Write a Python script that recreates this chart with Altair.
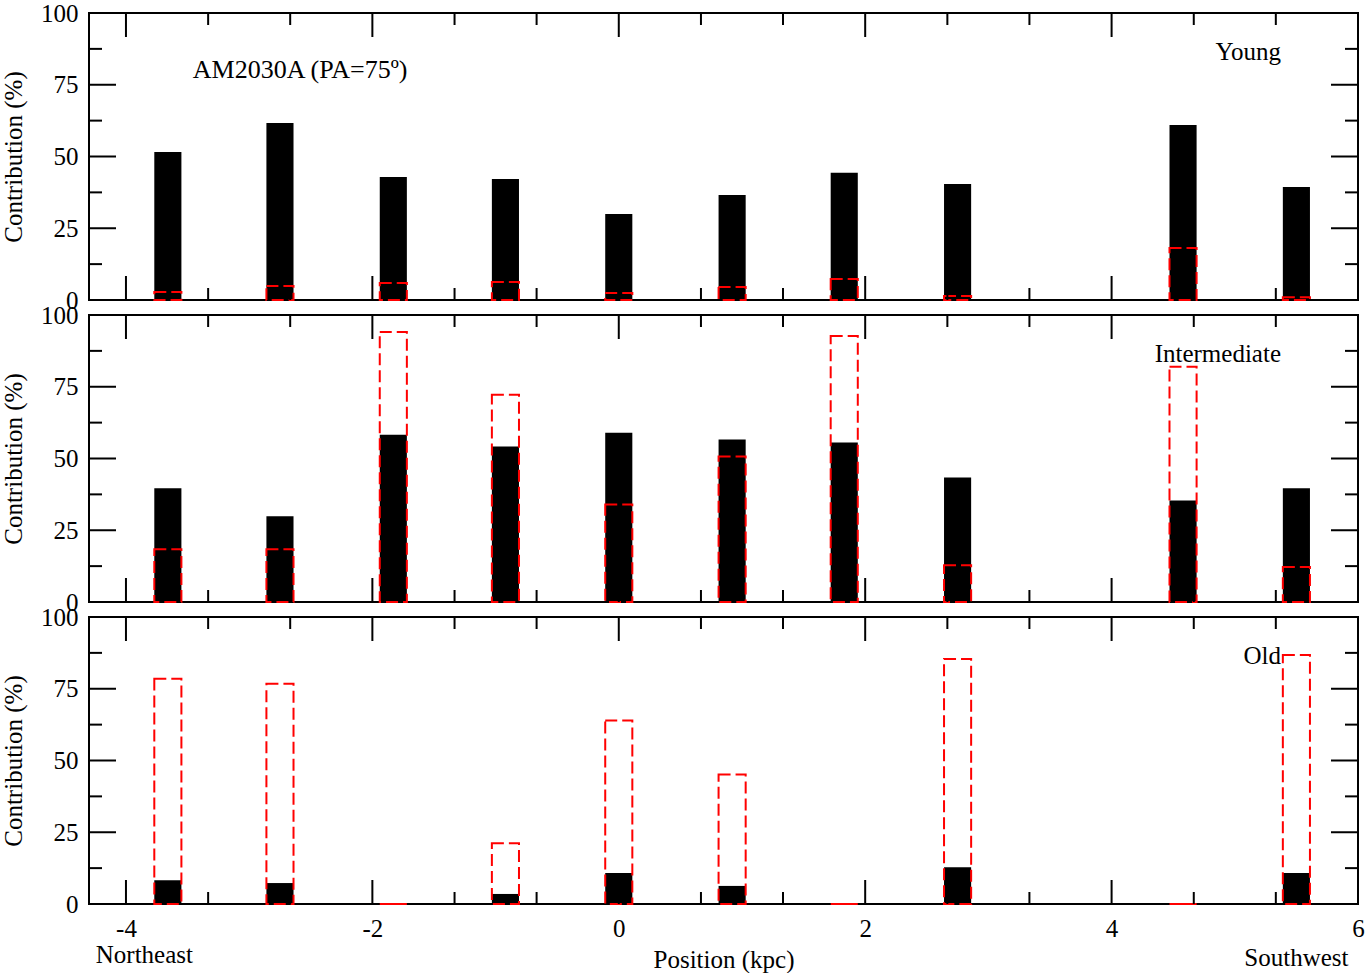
import altair as alt
import pandas as pd

# Slit positions along PA=75 (kpc)
positions = [-3.66, -2.75, -1.83, -0.92, 0.0, 0.92, 1.83, 2.75, 4.58, 5.50]

# Light-fraction (black) and mass-fraction (red dashed) contributions, in %
young_light = [51.6, 61.7, 42.9, 42.2, 30.0, 36.6, 44.3, 40.4, 61.0, 39.4]
young_mass = [2.8, 4.9, 5.9, 6.3, 2.4, 4.5, 7.3, 1.4, 18.1, 1.0]
inter_light = [39.6, 29.9, 58.3, 54.2, 59.0, 56.6, 55.6, 43.4, 35.4, 39.6]
inter_mass = [18.4, 18.4, 94.1, 72.2, 34.0, 50.7, 92.7, 12.8, 82.0, 12.2]
old_light = [8.3, 7.3, 0.0, 3.5, 10.8, 6.3, 0.0, 12.8, 0.0, 10.8]
old_mass = [78.5, 76.7, 0.0, 21.2, 63.9, 45.1, 0.0, 85.4, 0.0, 86.8]

x_major = [-4, -2, 0, 2, 4, 6]
x_minor = [-3.333, -2.667, -1.333, -0.667, 0.667, 1.333, 2.667, 3.333, 4.667, 5.333]
y_major = [0, 25, 50, 75, 100]
y_minor = [12.5, 37.5, 62.5, 87.5]

FONT = "Liberation Serif"
W, H = 1269, 287
HALF = 0.11

xscale = alt.Scale(domain=[-4.3, 6], nice=False, zero=False)
yscale = alt.Scale(domain=[0, 100], nice=False)

Y_AXIS = alt.Axis(
    values=y_major, ticks=False, domain=False, grid=False,
    labelFont=FONT, labelFontSize=25, labelColor="black", labelPadding=11,
    labelOverlap=False, title="Contribution (%)", titleFont=FONT,
    titleFontSize=25, titleFontWeight="normal", titleColor="black",
    titlePadding=14,
)
X_AXIS = alt.Axis(
    values=x_major, ticks=False, domain=False, grid=False,
    labelFont=FONT, labelFontSize=25, labelColor="black",
    labelPadding=12, labelFlush=False, labelOverlap=False,
    labelExpr="'' + datum.value",
    title="Position (kpc)", titleFont=FONT, titleFontSize=25,
    titleFontWeight="normal", titleColor="black", titlePadding=6,
)


def panel(light, mass, label, bottom=False, extra_text=None):
    xa = X_AXIS if bottom else None

    def X(field):
        return alt.X(field, scale=xscale, axis=xa)

    def Y(field):
        return alt.Y(field, scale=yscale, axis=Y_AXIS)

    df = pd.DataFrame({"pos": positions, "light": light, "mass": mass})
    base = alt.Chart(df).transform_calculate(
        x0=f"datum.pos - {HALF}", x1=f"datum.pos + {HALF}", zero="0"
    )
    bars = base.mark_rect(color="black").encode(
        x=X("x0:Q"), x2="x1:Q", y=Y("light:Q"), y2="zero:Q",
    )
    boxes = base.mark_rect(
        fillOpacity=0, stroke="red", strokeWidth=2, strokeDash=[12, 5]
    ).encode(x=X("x0:Q"), x2="x1:Q", y=Y("mass:Q"), y2="zero:Q")

    layers = [bars, boxes]

    # inward-pointing major/minor ticks on all four sides
    for vals, ln in ((x_major, 24), (x_minor, 12)):
        r = alt.Chart(pd.DataFrame({"v": vals})).mark_rule(color="black", strokeWidth=2)
        layers.append(r.encode(x=X("v:Q"), y=alt.value(0), y2=alt.value(ln)))
        layers.append(r.encode(x=X("v:Q"), y=alt.value(H), y2=alt.value(H - ln)))
    for vals, ln in ((y_major, 27), (y_minor, 13)):
        r = alt.Chart(pd.DataFrame({"v": vals})).mark_rule(color="black", strokeWidth=2)
        layers.append(r.encode(y=Y("v:Q"), x=alt.value(0), x2=alt.value(ln)))
        layers.append(r.encode(y=Y("v:Q"), x=alt.value(W), x2=alt.value(W - ln)))

    texts = [(5.375, 86.5, label, 25, "right")]
    if extra_text:
        texts += extra_text
    for x, y, t, size, align in texts:
        layers.append(
            alt.Chart(pd.DataFrame({"x": [x], "y": [y], "t": [t]})).mark_text(
                font=FONT, fontSize=size, align=align, baseline="middle", color="black"
            ).encode(x=X("x:Q"), y=Y("y:Q"), text="t:N")
        )

    if bottom:
        for x, dy, t, align in ((-4.245, 51, "Northeast", "left"), (5.5, 54, "Southwest", "center")):
            layers.append(
                alt.Chart(pd.DataFrame({"x": [x], "t": [t]})).mark_text(
                    font=FONT, fontSize=25, align=align, baseline="middle", color="black"
                ).encode(x=X("x:Q"), y=alt.value(H + dy), text="t:N")
            )
    return alt.layer(*layers).properties(width=W, height=H)


top = panel(young_light, young_mass, "Young",
            extra_text=[(-3.458, 80.1, "AM2030A (PA=75º)", 26, "left")])
mid = panel(inter_light, inter_mass, "Intermediate")
bot = panel(old_light, old_mass, "Old", bottom=True)

chart = alt.vconcat(top, mid, bot, spacing=15, bounds="flush").properties(
    padding={"left": 0, "top": 0, "right": 0, "bottom": 0},
    background="white",
).configure_view(stroke="black", strokeWidth=2)

chart.save("out.html", embed_options={"renderer": "svg", "actions": False})
